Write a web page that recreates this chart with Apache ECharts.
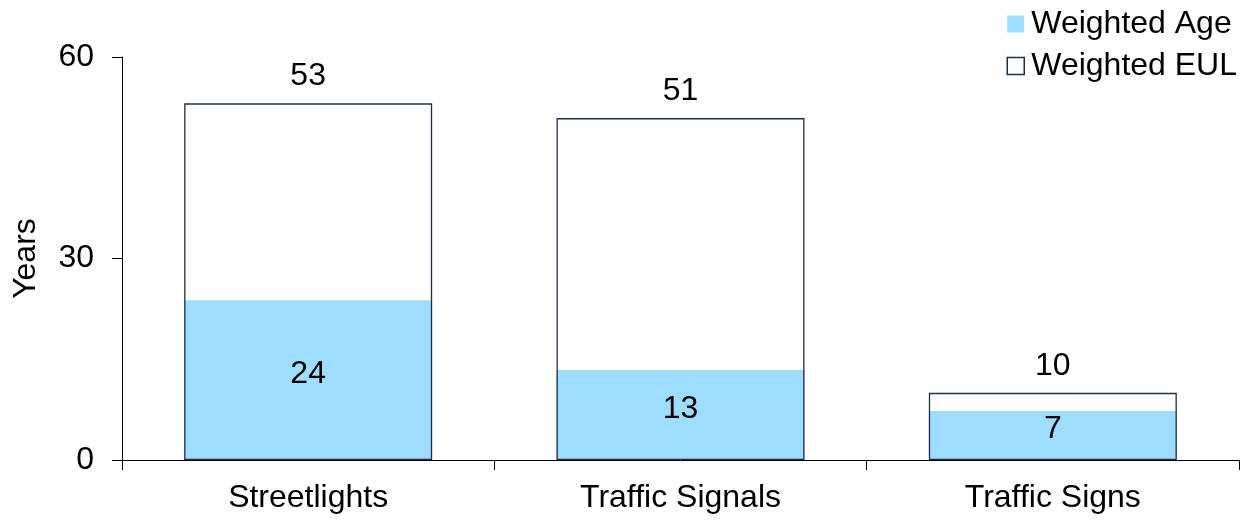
<!DOCTYPE html>
<html>
<head>
<meta charset="utf-8">
<script src="https://cdn.jsdelivr.net/npm/echarts@6/dist/echarts.min.js"></script>
<style>
html,body{margin:0;padding:0;background:#fff;}
#chart{width:1254px;height:522px;}
</style>
</head>
<body>
<div id="chart"></div>
<script>
var categories = ['Streetlights', 'Traffic Signals', 'Traffic Signs'];
var weightedAge = [23.8, 13.4, 7.3];
var weightedEUL = [53.1, 50.9, 10];
var yTicks = [0, 30, 60];

var FONT = '"Liberation Sans", Arial, sans-serif';
var FS = 32;
var chart = echarts.init(document.getElementById('chart'), null, {renderer: 'canvas'});
chart.setOption({
  animation: false,
  backgroundColor: '#ffffff',
  textStyle: {fontFamily: FONT},
  grid: {left: 122, right: 15, top: 57, bottom: 62},
  legend: {
    orient: 'vertical',
    right: 12,
    top: 3,
    itemWidth: 17,
    itemHeight: 17,
    itemGap: 10,
    icon: 'rect',
    textStyle: {fontFamily: FONT, fontSize: FS, color: '#000', padding: [0,0,0,2]},
    data: [
      {name: 'Weighted Age'},
      {name: 'Weighted EUL', itemStyle: {color: '#ffffff', borderColor: '#1F2D4F', borderWidth: 1.5}}
    ]
  },
  xAxis: {
    type: 'category',
    data: categories,
    axisLine: {lineStyle: {color: '#000', width: 1}},
    axisTick: {show: true, length: 10, lineStyle: {color: '#000'}},
    axisLabel: {fontFamily: FONT, fontSize: FS, color: '#000', margin: 22}
  },
  yAxis: {
    type: 'value',
    min: yTicks[0],
    max: yTicks[yTicks.length - 1],
    interval: yTicks[1] - yTicks[0],
    name: 'Years',
    nameLocation: 'middle',
    nameGap: 80,
    nameRotate: 90,
    nameTextStyle: {fontFamily: FONT, fontSize: FS, color: '#000'},
    splitLine: {show: false},
    axisLine: {show: true, lineStyle: {color: '#000', width: 1}},
    axisTick: {show: true, length: 10, lineStyle: {color: '#000'}},
    axisLabel: {fontFamily: FONT, fontSize: FS, color: '#000', margin: 28}
  },
  series: [
    {
      name: 'Weighted Age',
      type: 'bar',
      data: weightedAge,
      barWidth: '66.6%',
      barGap: '-100%',
      itemStyle: {color: '#9EDDFE'},
      label: {
        show: true,
        position: 'inside',
        offset: [0, -6],
        fontFamily: FONT, fontSize: FS, color: '#000',
        formatter: function (p) { return Math.round(p.value); }
      }
    },
    {
      name: 'Weighted EUL',
      type: 'bar',
      data: weightedEUL,
      barWidth: '66.6%',
      barGap: '-100%',
      itemStyle: {color: 'rgba(255,255,255,0)', borderColor: '#1F2D4F', borderWidth: 1.3},
      label: {
        show: true,
        position: 'top',
        distance: 11,
        fontFamily: FONT, fontSize: FS, color: '#000',
        formatter: function (p) { return Math.round(p.value); }
      }
    }
  ]
});
</script>
</body>
</html>
